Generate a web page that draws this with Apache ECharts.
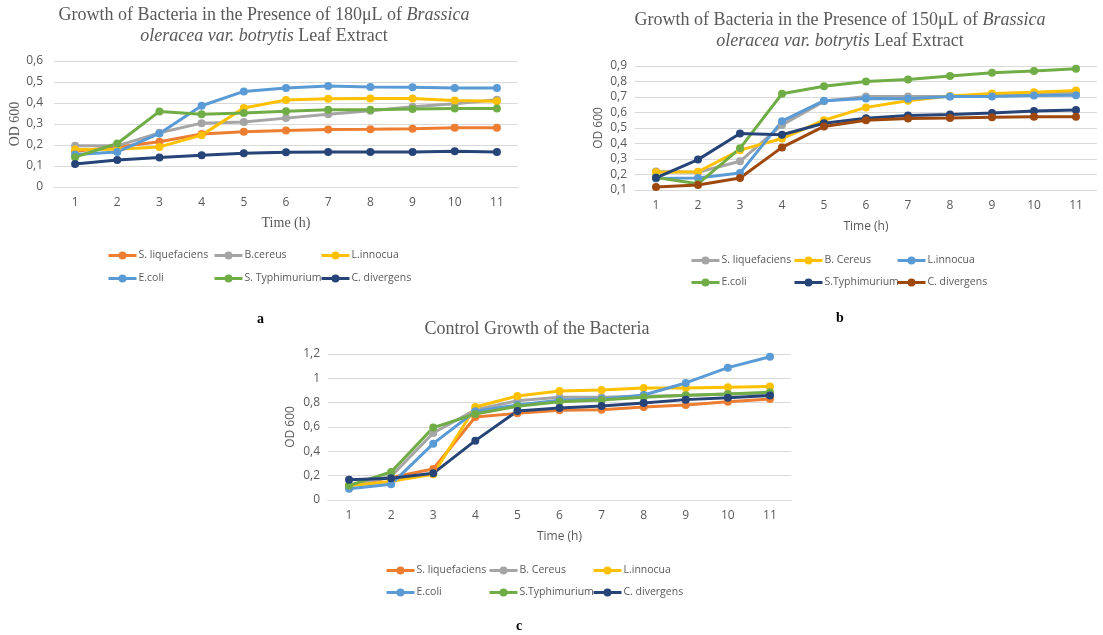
<!DOCTYPE html>
<html><head><meta charset="utf-8">
<script src="https://cdn.jsdelivr.net/npm/echarts@6/dist/echarts.min.js"></script>
<style>html,body{margin:0;padding:0;background:#fff}#c{width:1103px;height:635px}</style>
</head><body><div id="c"></div>
<script>
// ---------- DATA ----------
const hours = ['1','2','3','4','5','6','7','8','9','10','11'];

// Panel a: 180 µL extract
const aNames = ['S. liquefaciens','B.cereus','L.innocua','E.coli','S. Typhimurium','C. divergens'];
const aSLiq  = [0.17,0.19,0.215,0.252,0.263,0.269,0.274,0.275,0.277,0.282,0.282];
const aBCer  = [0.196,0.196,0.258,0.304,0.31,0.328,0.346,0.363,0.382,0.396,0.416];
const aLInn  = [0.178,0.18,0.191,0.247,0.376,0.414,0.42,0.422,0.422,0.412,0.408];
const aEcoli = [0.155,0.167,0.255,0.387,0.455,0.471,0.481,0.476,0.475,0.471,0.471];
const aSTyp  = [0.142,0.207,0.36,0.347,0.352,0.361,0.368,0.368,0.371,0.374,0.374];
const aCDiv  = [0.11,0.129,0.14,0.151,0.161,0.166,0.167,0.167,0.167,0.17,0.167];

// Panel b: 150 µL extract
const bNames = ['S. liquefaciens','B. Cereus','L.innocua','E.coli','S.Typhimurium','C. divergens'];
const bSLiq  = [0.22,0.215,0.285,0.52,0.672,0.704,0.704,0.704,0.715,0.72,0.73];
const bBCer  = [0.215,0.218,0.357,0.432,0.55,0.633,0.676,0.706,0.723,0.731,0.742];
const bLInn  = [0.175,0.177,0.209,0.544,0.676,0.691,0.689,0.704,0.704,0.71,0.712];
const bEcoli = [0.18,0.14,0.369,0.721,0.77,0.8,0.813,0.836,0.857,0.868,0.883];
const bSTyp  = [0.179,0.296,0.465,0.456,0.531,0.563,0.58,0.587,0.597,0.61,0.616];
const bCDiv  = [0.119,0.132,0.177,0.375,0.51,0.55,0.561,0.565,0.57,0.572,0.572];

// Panel c: control
const cNames = ['S. liquefaciens','B. Cereus','L.innocua','E.coli','S.Typhimurium','C. divergens'];
const cSLiq  = [0.12,0.186,0.255,0.682,0.712,0.737,0.742,0.764,0.781,0.808,0.83];
const cBCer  = [0.12,0.195,0.551,0.742,0.816,0.844,0.844,0.852,0.858,0.871,0.879];
const cLInn  = [0.118,0.153,0.211,0.764,0.855,0.896,0.904,0.92,0.92,0.926,0.932];
const cEcoli = [0.093,0.129,0.463,0.729,0.78,0.82,0.83,0.863,0.962,1.088,1.178];
const cSTyp  = [0.12,0.23,0.595,0.707,0.77,0.808,0.822,0.844,0.86,0.871,0.885];
const cCDiv  = [0.167,0.178,0.219,0.488,0.731,0.756,0.773,0.797,0.825,0.841,0.858];

// ---------- STYLE ----------
const ORANGE='#ED7D31', GRAY='#A5A5A5', YELLOW='#FFC000', BLUE='#5B9BD5', GREEN='#70AD47', NAVY='#264478', BROWN='#9E480E';
const aColors=[ORANGE,GRAY,YELLOW,BLUE,GREEN,NAVY];
const bColors=[GRAY,YELLOW,BLUE,GREEN,NAVY,BROWN];
const cColors=[ORANGE,GRAY,YELLOW,BLUE,GREEN,NAVY];
const SANS='Open Sans, Noto Sans, sans-serif', SERIF='Liberation Serif, DejaVu Serif, serif';
const TXT='#595959', GRID='#D9D9D9';

const fmt = v => Number(v.toFixed(1)).toString().replace('.', ',');

const panels = [
  {key:'a', names:aNames, data:[aSLiq,aBCer,aLInn,aEcoli,aSTyp,aCDiv], colors:aColors,
   grid:{left:54, top:61, width:464, height:126}, y:{min:0,max:0.6,interval:0.1},
   nameFont:SERIF, nameSize:14, ygap:30, xgap:29, ymargin:11,
   legCols:[107,213,320], legRows:[257,280]},
  {key:'b', names:bNames, data:[bSLiq,bBCer,bLInn,bEcoli,bSTyp,bCDiv], colors:bColors,
   grid:{left:635, top:66, width:462, height:124}, y:{min:0.1,max:0.9,interval:0.1},
   nameFont:SANS, nameSize:12, ygap:30, xgap:31, ymargin:8,
   legCols:[690,793,896], legRows:[262,284]},
  {key:'c', names:cNames, data:[cSLiq,cBCer,cLInn,cEcoli,cSTyp,cCDiv], colors:cColors,
   grid:{left:328, top:354, width:463, height:146}, y:{min:0,max:1.2,interval:0.2},
   nameFont:SANS, nameSize:12, ygap:31, xgap:31, ymargin:8,
   legCols:[385,488,592], legRows:[572,594]}
];

const grid=[], xAxis=[], yAxis=[], series=[], legend=[];
panels.forEach((p,i)=>{
  grid.push(Object.assign({containLabel:false}, p.grid));
  xAxis.push({type:'category', gridIndex:i, data:hours, boundaryGap:true,
    axisLine:{lineStyle:{color:GRID,width:1}}, axisTick:{show:false},
    axisLabel:{color:TXT, fontFamily:SANS, fontSize:12, margin:10},
    name:'Time (h)', nameLocation:'middle', nameGap:p.xgap,
    nameTextStyle:{color:TXT, fontFamily:p.nameFont, fontSize:p.nameSize}});
  yAxis.push({type:'value', gridIndex:i, min:p.y.min, max:p.y.max, interval:p.y.interval,
    axisLine:{show:false}, axisTick:{show:false},
    splitLine:{lineStyle:{color:GRID,width:1}},
    axisLabel:{color:TXT, fontFamily:SANS, fontSize:12, margin:p.ymargin, formatter:fmt},
    name:'OD 600', nameLocation:'middle', nameGap:p.ygap, nameRotate:90,
    nameTextStyle:{color:TXT, fontFamily:p.nameFont, fontSize:p.nameSize}});
  p.names.forEach((n,j)=>{
    const sname = p.key+'|'+n;
    series.push({type:'line', name:sname, xAxisIndex:i, yAxisIndex:i, data:p.data[j],
      color:p.colors[j], symbol:'circle', symbolSize:8, showSymbol:true,
      lineStyle:{width:3, color:p.colors[j]}, itemStyle:{color:p.colors[j]},
      animation:false});
    legend.push({data:[sname], left:p.legCols[j%3], top:p.legRows[Math.floor(j/3)]-7,
      padding:0, itemWidth:28, itemHeight:10, itemGap:2, selectedMode:false,
      lineStyle:{width:3},
      formatter: s=>s.split('|')[1],
      textStyle:{color:TXT, fontFamily:SANS, fontSize:10.5, padding:[0,0,0,-3]}});
  });
});

const rich = {
  n:{fontFamily:SERIF, fontSize:18, color:TXT, fontWeight:'normal', lineHeight:21},
  i:{fontFamily:SERIF, fontSize:18, color:TXT, fontWeight:'normal', fontStyle:'italic', lineHeight:21}
};
const tstyle = {rich:rich, fontWeight:'normal', fontFamily:SERIF, fontSize:18, color:TXT};
const title = [
  {text:'{n|Growth of Bacteria in the Presence of 180μL of }{i|Brassica}\n{i|oleracea var. botrytis}{n| Leaf Extract}',
   left:264, top:5, padding:0, textAlign:'center', textStyle:tstyle},
  {text:'{n|Growth of Bacteria in the Presence of 150μL of }{i|Brassica}\n{i|oleracea var. botrytis}{n| Leaf Extract}',
   left:840, top:10, padding:0, textAlign:'center', textStyle:tstyle},
  {text:'{n|Control Growth of the Bacteria}', left:537, top:319, padding:0, textAlign:'center', textStyle:tstyle}
];

const graphic = [
  {type:'text', left:257, top:312, style:{text:'a', font:'bold 14px '+SERIF, fill:'#000'}},
  {type:'text', left:836, top:311, style:{text:'b', font:'bold 14px '+SERIF, fill:'#000'}},
  {type:'text', left:516, top:619, style:{text:'c', font:'bold 14px '+SERIF, fill:'#000'}}
];

const chart = echarts.init(document.getElementById('c'), null, {renderer:'canvas'});
chart.setOption({animation:false, backgroundColor:'#fff', title, grid, xAxis, yAxis, series, legend, graphic});
</script></body></html>
